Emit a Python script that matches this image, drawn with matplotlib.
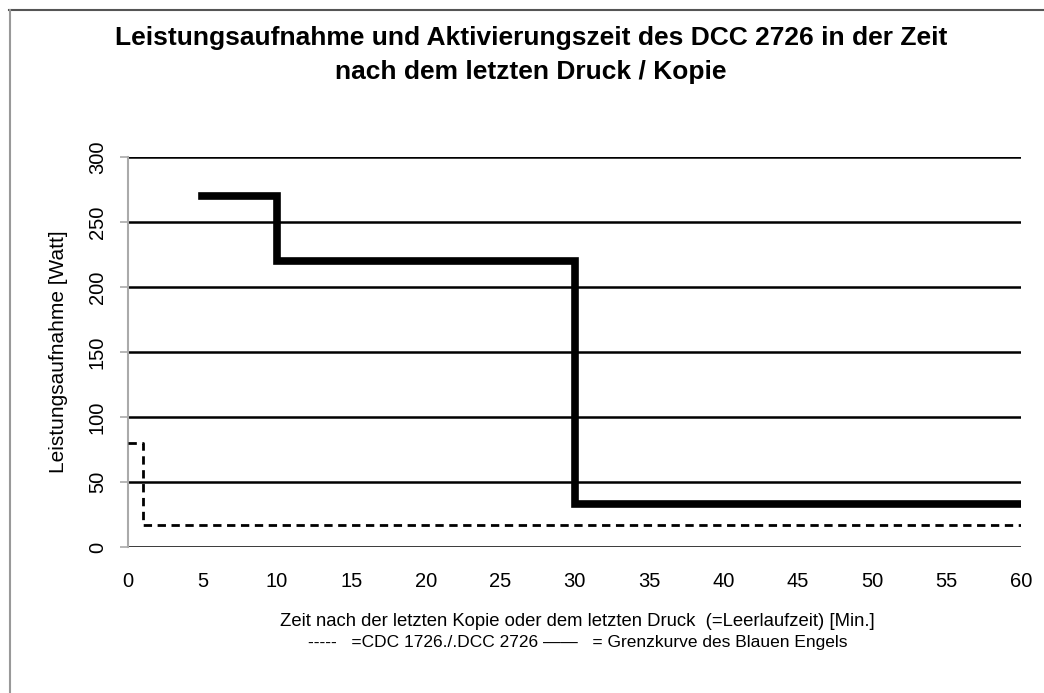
import matplotlib.pyplot as plt
from matplotlib.lines import Line2D

plt.rcParams['font.family'] = ['Liberation Sans', 'DejaVu Sans']

# step curves (minutes, watt)
dcc_x = [5, 10, 10, 30, 30, 60]
dcc_y = [270, 270, 220, 220, 33, 33]
cdc_x = [0, 1, 1, 60]
cdc_y = [80, 80, 17, 17]

x_ticks = list(range(0, 61, 5))
y_ticks = list(range(0, 301, 50))

fig = plt.figure(figsize=(10.44, 6.93), dpi=100)
ax = fig.add_axes([128 / 1044, 1 - 547 / 693, (1021 - 128) / 1044, (547 - 157) / 693])

# outer frame (top and left only)
fig.add_artist(Line2D([9 / 1044, 1], [1 - 9.5 / 693, 1 - 9.5 / 693], color='#555555', lw=1.5))
fig.add_artist(Line2D([9.5 / 1044, 9.5 / 1044], [0, 1 - 9.5 / 693], color='#999999', lw=1.5))

for y in y_ticks:
    ax.axhline(y, color='black', lw=1.8, zorder=1)

ax.plot(cdc_x, cdc_y, color='black', lw=2, linestyle=(0, (3, 2)), zorder=3)
ax.plot(dcc_x, dcc_y, color='black', lw=5.5, solid_joinstyle='miter', zorder=4)

ax.set_xlim(0, 60)
ax.set_ylim(0, 300)
ax.set_xticks(x_ticks)
ax.set_yticks(y_ticks)
for s in ['top', 'right', 'bottom']:
    ax.spines[s].set_visible(False)
ax.spines['left'].set_color('#aaaaaa')
ax.spines['left'].set_linewidth(1.5)
ax.tick_params(axis='x', length=0, pad=18, labelsize=14.5)
ax.tick_params(axis='y', length=6, width=1.2, color='#aaaaaa', pad=16, labelsize=14.5)
for lab in ax.get_yticklabels():
    lab.set_rotation(90)
    lab.set_va('center')
    lab.set_ha('center')

ax.set_ylabel('Leistungsaufnahme [Watt]', fontsize=15, labelpad=14)

fig.text(531 / 1044, 1 - 38 / 693, 'Leistungsaufnahme und Aktivierungszeit des DCC 2726 in der Zeit',
         ha='center', va='center', fontsize=19, fontweight='bold')
fig.text(531 / 1044, 1 - 72 / 693, 'nach dem letzten Druck / Kopie',
         ha='center', va='center', fontsize=19, fontweight='bold')

fig.text(577 / 1044, 1 - 622 / 693,
         'Zeit nach der letzten Kopie oder dem letzten Druck  (=Leerlaufzeit) [Min.]',
         ha='center', va='center', fontsize=13.3)
fig.text(578 / 1044, 1 - 642 / 693,
         '-----   =CDC 1726./.DCC 2726 ——   = Grenzkurve des Blauen Engels',
         ha='center', va='center', fontsize=12.5)

fig.savefig('out.png', dpi=100)
